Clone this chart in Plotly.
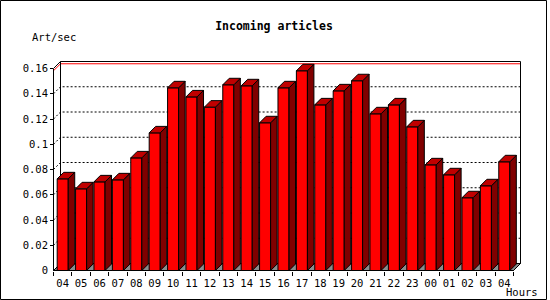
import plotly.graph_objects as go

# ---------------- data ----------------
hours = ["04", "05", "06", "07", "08", "09", "10", "11", "12", "13", "14", "15", "16",
         "17", "18", "19", "20", "21", "22", "23", "00", "01", "02", "03", "04"]
rates = [0.0726, 0.0647, 0.0702, 0.0718, 0.0892, 0.1090, 0.1447, 0.1375, 0.1294, 0.1471,
         0.1463, 0.1170, 0.1447, 0.1582, 0.1312, 0.1423, 0.1503, 0.1241, 0.1312, 0.1138,
         0.0837, 0.0758, 0.0576, 0.0671, 0.0861]
y_ticks = [0, 0.02, 0.04, 0.06, 0.08, 0.1, 0.12, 0.14, 0.16]
y_tick_text = ["0", "0.02", "0.04", "0.06", "0.08", "0.1", "0.12", "0.14", "0.16"]
title_text = "Incoming articles"
y_title = "Art/sec"
x_title = "Hours"

# ---------------- geometry / style ----------------
W, H = 550, 300
PX_X = 18.4      # pixels per category
PX_Y = 1262.5    # pixels per unit of Art/sec
X0, Y0 = 53.5, 270.5   # pixel of (0, 0)
L, R, T, B = 50, 526, 55, 271
n = len(hours)
xr = [(L - X0) / PX_X, (R - X0) / PX_X]
yr = [(Y0 - B) / PX_Y, (Y0 - T) / PX_Y]
WDX, WDY = 7 / PX_X, 7 / PX_Y        # wall depth
BDX, BDY = 6.5 / PX_X, 6.5 / PX_Y    # bar depth
BAR_W = 0.6
top_val = y_ticks[-1]
FRONT, SIDE, TOP, FLOOR = "#ff0000", "#800000", "#c00000", "#8c8c8c"
MONO = "DejaVu Sans Mono"


def px_to_paper_x(px):
    return (px - L) / (R - L)


def px_to_paper_y(py):
    return (B - py) / (B - T)


shapes = []


def path_shape(pts, line=dict(color="black", width=1), fill=None, closed=False):
    d = "M " + " L ".join(f"{x},{y}" for x, y in pts)
    if closed:
        d += " Z"
    s = dict(type="path", path=d, xref="x", yref="y", layer="below", line=line)
    if fill:
        s["fillcolor"] = fill
    shapes.append(s)


# floor
path_shape([(0, 0), (WDX, WDY), (n + WDX, WDY), (n, 0)], fill=FLOOR, closed=True)
# dotted grid on back wall with diagonal to the front axis
for v in y_ticks[1:-1]:
    path_shape([(0, v), (WDX, v + WDY), (n + WDX, v + WDY)],
               line=dict(color="black", width=1, dash="2px,2px"))
# red max line
vmax = max(rates)
path_shape([(0, vmax), (WDX, vmax + WDY), (n + WDX, vmax + WDY)],
           line=dict(color="#ff0000", width=1))
# back wall outline
path_shape([(WDX, WDY), (WDX, top_val + WDY), (n + WDX, top_val + WDY), (n + WDX, WDY), (n, 0)])
path_shape([(0, top_val), (WDX, top_val + WDY)])
# front axes
path_shape([(0, top_val), (0, 0), (n, 0)])

# outer image border (paper coords)
shapes.append(dict(type="rect", xref="paper", yref="paper", layer="above",
                   x0=px_to_paper_x(0.5), x1=px_to_paper_x(546.5),
                   y0=px_to_paper_y(299.5), y1=px_to_paper_y(0.5),
                   line=dict(color="black", width=1)))

fig = go.Figure()
xc = [i + 0.5 for i in range(n)]
fig.add_trace(go.Bar(x=xc, y=rates, width=BAR_W, marker=dict(color=FRONT, line=dict(color="black", width=1)),
                     hoverinfo="skip", showlegend=False))

for i, v in enumerate(rates):
    x0 = xc[i] - BAR_W / 2
    x1 = xc[i] + BAR_W / 2
    fig.add_trace(go.Scatter(x=[x1, x1 + BDX, x1 + BDX, x1, x1], y=[0, BDY, v + BDY, v, 0],
                             mode="lines", fill="toself", fillcolor=SIDE,
                             line=dict(color="black", width=1), hoverinfo="skip", showlegend=False))
    fig.add_trace(go.Scatter(x=[x0, x1, x1 + BDX, x0 + BDX, x0], y=[v, v, v + BDY, v + BDY, v],
                             mode="lines", fill="toself", fillcolor=TOP,
                             line=dict(color="black", width=1), hoverinfo="skip", showlegend=False))

fig.update_layout(
    width=W, height=H,
    margin=dict(l=L, r=W - R, t=T, b=H - B, pad=0),
    paper_bgcolor="white", plot_bgcolor="white",
    showlegend=False,
    title=dict(text=f"<b>{title_text}</b>", xref="container", yref="container",
               x=274 / W, y=1 - 26 / H, xanchor="center", yanchor="middle",
               font=dict(family=MONO, size=11.5, color="black")),
    xaxis=dict(range=xr, showgrid=False, zeroline=False, showline=False,
               tickmode="array", tickvals=xc, ticktext=hours, ticks="",
               ticklabelstandoff=4,
               tickfont=dict(family=MONO, size=10.5, color="black"),
               minor=dict(tickmode="array", tickvals=list(range(n + 1)), ticks="outside",
                          ticklen=4, tickwidth=1, tickcolor="black", showgrid=False)),
    yaxis=dict(range=yr, showgrid=False, zeroline=False, showline=False,
               tickmode="array", tickvals=y_ticks, ticktext=y_tick_text,
               ticks="inside", ticklen=3, tickwidth=1, tickcolor="black",
               ticklabelstandoff=1,
               tickfont=dict(family=MONO, size=10.5, color="black")),
    shapes=shapes,
    annotations=[
        dict(text=y_title, xref="paper", yref="paper", x=px_to_paper_x(30), y=px_to_paper_y(37),
             xanchor="left", yanchor="middle", showarrow=False,
             font=dict(family=MONO, size=10.5, color="black")),
        dict(text=x_title, xref="paper", yref="paper", x=px_to_paper_x(504), y=px_to_paper_y(292),
             xanchor="left", yanchor="middle", showarrow=False,
             font=dict(family=MONO, size=10.5, color="black")),
    ],
)

fig.write_html("out.html")
